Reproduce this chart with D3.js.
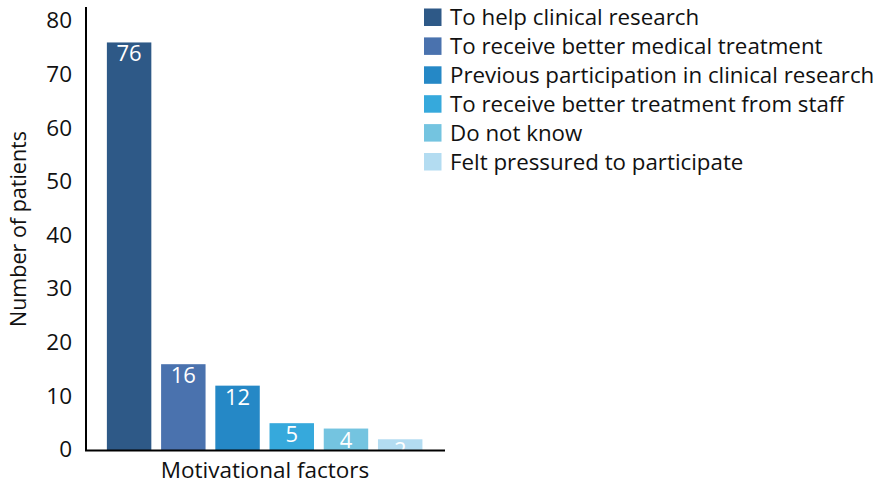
<!DOCTYPE html>
<html><head><meta charset="utf-8">
<script src="https://cdn.jsdelivr.net/npm/d3@7"></script>
<style>body{margin:0;background:#fff;} svg{display:block;} text{font-family:"Open Sans",sans-serif;}</style>
</head><body>
<svg id="c" width="880" height="485"></svg>
<script>
const categories = ["To help clinical research","To receive better medical treatment","Previous participation in clinical research","To receive better treatment from staff","Do not know","Felt pressured to participate"];
const values = [76,16,12,5,4,2];
const colors = ["#2e5987","#4a72ae","#2588c6","#36a9dc","#74c4e0","#b3dcf1"];
const yTicks = [0,10,20,30,40,50,60,70,80];

const svg = d3.select("#c");
const y = d3.scaleLinear().domain([0,80]).range([450,21]);
const x = d3.scaleBand().domain(categories).range([102,427.3]).paddingInner(0.18).paddingOuter(0.09);

// y ticks
const yAxis = d3.axisLeft(y).tickValues(yTicks).tickSize(0).tickPadding(14);
const gy = svg.append("g").attr("transform","translate(86,0)").call(yAxis);
gy.select(".domain").remove();
gy.selectAll("text").attr("font-size",22.5).attr("fill","#111").attr("font-family","'Open Sans',sans-serif").attr("dy","0.3em");

// bars
svg.selectAll("rect.bar").data(categories).enter().append("rect")
  .attr("class","bar")
  .attr("x",d=>x(d)).attr("width",x.bandwidth())
  .attr("y",(d,i)=>y(values[i])).attr("height",(d,i)=>y(0)-y(values[i]))
  .attr("fill",(d,i)=>colors[i]);

// bar labels
svg.selectAll("text.lbl").data(categories).enter().append("text")
  .attr("class","lbl")
  .attr("x",d=>x(d)+x.bandwidth()/2)
  .attr("y",(d,i)=>y(values[i])+19)
  .attr("text-anchor","middle").attr("font-size",22).attr("fill","#fff")
  .text((d,i)=>values[i]);

// axis lines
svg.append("line").attr("x1",86).attr("x2",86).attr("y1",7).attr("y2",451).attr("stroke","#000").attr("stroke-width",2);
svg.append("line").attr("x1",85).attr("x2",445).attr("y1",450.5).attr("y2",450.5).attr("stroke","#000").attr("stroke-width",2);

// axis titles
svg.append("text").attr("transform","translate(26,229) rotate(-90)").attr("text-anchor","middle")
  .attr("font-size",21.5).attr("fill","#111").text("Number of patients");
svg.append("text").attr("x",265).attr("y",478).attr("text-anchor","middle")
  .attr("font-size",22.5).attr("fill","#111").text("Motivational factors");

// legend
const lg = svg.append("g");
categories.forEach((c,i)=>{
  const cy = 17.5 + i*28.9;
  lg.append("rect").attr("x",424).attr("y",cy-9).attr("width",17.5).attr("height",17.5).attr("fill",colors[i]);
  lg.append("text").attr("x",450).attr("y",cy).attr("dy","0.35em").attr("font-size",22.3).attr("fill","#111").text(c);
});
</script>
</body></html>
